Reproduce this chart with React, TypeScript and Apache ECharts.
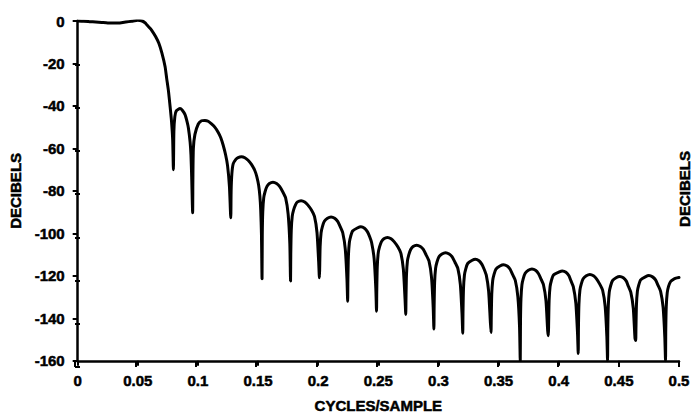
import React, { useEffect, useRef } from "react";
import * as echarts from "echarts";

// Axis settings (tick labels come from these)
const X_MIN = 0;
const X_MAX = 0.5;
const X_STEP = 0.05;
const Y_MIN = -160;
const Y_MAX = 0;
const Y_STEP = 20;

const xTitle = "CYCLES/SAMPLE";
const yTitle = "DECIBELS";

// Passband and transition band: [cycles/sample, dB]
const mainLobe: number[][] = [
  [0, 0], [0.005, -0.1], [0.01, -0.3], [0.015, -0.5], [0.02, -0.7], [0.025, -0.9],
  [0.03, -1.0], [0.035, -0.9], [0.04, -0.5], [0.045, -0.1], [0.05, 0.3], [0.053, 0.1],
  [0.056, -0.8], [0.0575, -1.8], [0.06, -3.3], [0.0617, -4.5], [0.065, -7.5],
  [0.0675, -10.5], [0.07, -15], [0.0727, -21.5], [0.074, -27], [0.0755, -33],
  [0.0768, -40], [0.078, -47], [0.079, -56], [0.0796, -70],
];

// Stopband side lobes, null to null
const lobe1: number[][] = [
  [0.08, -52], [0.0808, -45], [0.082, -42.3], [0.0851, -41.2], [0.087, -42], [0.0892, -44],
  [0.091, -47.5], [0.0921, -50.5], [0.0935, -57], [0.0942, -63], [0.0948, -73.5], [0.0956, -90.3],
];
const lobe2: number[][] = [
  [0.0958, -75], [0.0962, -60], [0.0975, -53.4], [0.1003, -48.5], [0.103, -47], [0.1058, -46.8],
  [0.1085, -47.2], [0.1113, -48.5], [0.114, -50], [0.1169, -52.5], [0.119, -55], [0.121, -58.5],
  [0.123, -63], [0.1246, -68], [0.1262, -78], [0.1273, -92.7],
];
const lobe3: number[][] = [
  [0.1276, -80], [0.1282, -72], [0.1293, -67.3], [0.1315, -65.2], [0.1334, -64.3], [0.1362, -63.9],
  [0.139, -64.4], [0.1417, -65.6], [0.1445, -67.5], [0.1472, -70.3], [0.149, -73.4], [0.1505, -77.5],
  [0.1515, -82.5], [0.1522, -89], [0.1528, -100], [0.1533, -121.4],
];
const lobe4: number[][] = [
  [0.1535, -100.9], [0.1539, -89.9], [0.1547, -83.3], [0.1558, -80.4], [0.1574, -77.9], [0.1594, -76.5],
  [0.1624, -75.9], [0.1654, -76.5], [0.1679, -77.9], [0.1705, -80.4], [0.1729, -83.3], [0.175, -90.9],
  [0.1764, -104.9], [0.177, -122.4],
];
const lobe5: number[][] = [
  [0.1772, -109.6], [0.1776, -98.6], [0.1784, -92], [0.1795, -89.1], [0.1811, -86.6], [0.1828, -85.2],
  [0.1858, -84.6], [0.1888, -85.2], [0.1913, -86.6], [0.1945, -89.1], [0.1969, -92], [0.199, -99.6],
  [0.2004, -113.6], [0.201, -120.9],
];
const lobe6: number[][] = [
  [0.2012, -117.3], [0.2016, -106.3], [0.2024, -99.7], [0.2035, -96.8], [0.2051, -94.3], [0.2077, -92.9],
  [0.2107, -92.3], [0.2137, -92.9], [0.2162, -94.4], [0.2183, -96.8], [0.2204, -99.7], [0.2225, -107.3],
  [0.2239, -121.3], [0.2245, -132],
];
const lobe7: number[][] = [
  [0.2247, -121.9], [0.2251, -110.9], [0.2259, -104.3], [0.227, -101.4], [0.2286, -98.9], [0.2325, -97.5],
  [0.2355, -96.9], [0.2385, -97.6], [0.241, -99.3], [0.2428, -101.6], [0.2444, -104.3], [0.2465, -111.9],
  [0.2479, -125.9], [0.2485, -136.7],
];
const lobe8: number[][] = [
  [0.2487, -126.9], [0.2491, -115.9], [0.2499, -109.3], [0.251, -106.4], [0.2526, -103.9], [0.2546, -102.5],
  [0.2576, -101.9], [0.2606, -102.5], [0.2631, -103.9], [0.2663, -106.4], [0.2687, -109.3], [0.2708, -116.9],
  [0.2722, -130.9], [0.2728, -138.2],
];
const lobe9: number[][] = [
  [0.273, -130.6], [0.2734, -119.6], [0.2742, -113], [0.2753, -110.1], [0.2769, -107.6], [0.2789, -106.2],
  [0.2819, -105.6], [0.2849, -106.2], [0.2874, -107.6], [0.2897, -110.1], [0.2921, -113], [0.2942, -120.6],
  [0.2956, -134.6], [0.2962, -145.1],
];
const lobe10: number[][] = [
  [0.2964, -134.1], [0.2968, -123.1], [0.2976, -116.5], [0.2987, -113.6], [0.3003, -111.1], [0.3029, -109.7],
  [0.3059, -109.1], [0.3089, -109.7], [0.3114, -111.1], [0.3137, -113.6], [0.3161, -116.5], [0.3182, -124.1],
  [0.3196, -138.1], [0.3202, -147],
];
const lobe11: number[][] = [
  [0.3204, -137.2], [0.3208, -126.2], [0.3216, -119.6], [0.3227, -116.7], [0.3243, -114.2], [0.3277, -112.8],
  [0.3307, -112.2], [0.3337, -112.9], [0.336, -114.5], [0.3379, -116.8], [0.3398, -119.8], [0.3417, -127.2],
  [0.3431, -141.2], [0.3437, -146.7],
];
const lobe12: number[][] = [
  [0.3439, -139.8], [0.3443, -128.8], [0.3451, -122.2], [0.3462, -119.3], [0.3478, -116.8], [0.3511, -115.4],
  [0.3541, -114.8], [0.3571, -115.4], [0.3596, -116.9], [0.3615, -119.2], [0.3639, -122.2], [0.366, -129.8],
  [0.3674, -143.8], [0.368, -160],
];
const lobe13: number[][] = [
  [0.3682, -141.8], [0.3686, -130.8], [0.3694, -124.2], [0.3705, -121.3], [0.3721, -118.8], [0.3747, -117.4],
  [0.3777, -116.8], [0.3807, -117.4], [0.3832, -119], [0.3851, -121.3], [0.3873, -124.2], [0.3894, -131.8],
  [0.3908, -145.8], [0.3914, -148.2],
];
const lobe14: number[][] = [
  [0.3916, -142.7], [0.392, -131.7], [0.3928, -125.1], [0.3939, -122.2], [0.3955, -119.7], [0.4, -118.3],
  [0.403, -117.7], [0.406, -118.3], [0.4085, -120], [0.4102, -122.4], [0.4121, -125.1], [0.4142, -132.7],
  [0.4156, -146.7], [0.4162, -156.6],
];
const lobe15: number[][] = [
  [0.4164, -144.4], [0.4168, -133.4], [0.4176, -126.8], [0.4187, -123.9], [0.4203, -121.4], [0.4229, -120],
  [0.4259, -119.4], [0.4289, -120], [0.4314, -121.4], [0.4341, -123.9], [0.4365, -126.8], [0.4386, -134.4],
  [0.44, -148.4], [0.4406, -160],
];
const lobe16: number[][] = [
  [0.4408, -145.3], [0.4412, -134.3], [0.442, -127.7], [0.4431, -124.8], [0.4447, -122.3], [0.4477, -120.9],
  [0.4507, -120.3], [0.4537, -120.9], [0.4562, -122.5], [0.4578, -124.8], [0.4599, -127.7], [0.462, -135.3],
  [0.4634, -149.3], [0.464, -150.5],
];
const lobe17: number[][] = [
  [0.4642, -144.9], [0.4646, -133.9], [0.4654, -127.3], [0.4665, -124.4], [0.4681, -121.9], [0.472, -120.5],
  [0.475, -119.9], [0.478, -120.5], [0.4805, -121.9], [0.4825, -124.4], [0.4847, -127.3], [0.4868, -134.9],
  [0.4882, -148.9], [0.4888, -160],
];
const lobe18: number[][] = [
  [0.489, -145.5], [0.4894, -134.5], [0.4902, -128], [0.4913, -125], [0.4929, -122.8], [0.4955, -121.6],
  [0.4975, -121.1], [0.5, -120.8],
];

const sideLobes = [
  lobe1, lobe2, lobe3, lobe4, lobe5, lobe6, lobe7, lobe8, lobe9,
  lobe10, lobe11, lobe12, lobe13, lobe14, lobe15, lobe16, lobe17, lobe18,
];

const FONT = "'Liberation Sans', Arial, sans-serif";
const INK = "#000";

export default function App() {
  const ref = useRef<HTMLDivElement>(null);

  useEffect(() => {
    if (!ref.current) return;
    const chart = echarts.init(ref.current, undefined, { renderer: "svg" });
    const curve = mainLobe.concat(...sideLobes);

    const gridBox = { left: 75, right: 14, top: 21, bottom: 51 };
    const labelStyle = {
      color: INK,
      fontFamily: FONT,
      fontWeight: "bold" as const,
      fontSize: 15,
      textBorderColor: INK,
      textBorderWidth: 0.5,
    };
    const fmt = (v: number) => String(parseFloat(v.toFixed(2)));

    chart.setOption({
      animation: false,
      backgroundColor: "#fff",
      grid: [
        { ...gridBox, containLabel: false },
        { ...gridBox, containLabel: false },
      ],
      xAxis: [
        {
          type: "value",
          gridIndex: 0,
          min: X_MIN,
          max: X_MAX,
          interval: X_STEP,
          name: xTitle,
          nameLocation: "middle",
          nameGap: 37,
          nameTextStyle: { ...labelStyle },
          axisLine: { show: true, onZero: false, lineStyle: { color: INK, width: 2.5 } },
          axisTick: { show: true, inside: false, length: 5, lineStyle: { color: INK, width: 2 } },
          axisLabel: { ...labelStyle, margin: 12, formatter: fmt },
          splitLine: { show: false },
        },
        {
          type: "value",
          gridIndex: 1,
          min: X_MIN,
          max: X_MAX,
          interval: X_STEP,
          axisLine: { show: false, onZero: false },
          axisTick: { show: true, inside: true, length: 5, lineStyle: { color: INK, width: 2 } },
          axisLabel: { show: false },
          splitLine: { show: false },
        },
      ],
      yAxis: [
        {
          type: "value",
          gridIndex: 0,
          min: Y_MIN,
          max: Y_MAX,
          interval: Y_STEP,
          name: yTitle,
          nameLocation: "middle",
          nameGap: 54,
          nameRotate: 90,
          nameTextStyle: { ...labelStyle },
          axisLine: { show: true, onZero: false, lineStyle: { color: INK, width: 2.5 } },
          axisTick: { show: true, inside: false, length: 5, lineStyle: { color: INK, width: 2 } },
          axisLabel: { ...labelStyle, margin: 13 },
          splitLine: { show: false },
        },
        {
          type: "value",
          gridIndex: 1,
          min: Y_MIN,
          max: Y_MAX,
          interval: Y_STEP,
          axisLine: { show: false, onZero: false },
          axisTick: { show: true, inside: true, length: 5, lineStyle: { color: INK, width: 2 } },
          axisLabel: { show: false },
          splitLine: { show: false },
        },
      ],
      graphic: [
        {
          type: "text",
          x: 684,
          y: 189,
          rotation: Math.PI / 2,
          style: {
            text: yTitle,
            fill: INK,
            stroke: INK,
            lineWidth: 0.5,
            font: `bold 15px ${FONT}`,
            align: "center",
            verticalAlign: "middle",
          },
        },
      ],
      series: [
        {
          type: "line",
          xAxisIndex: 0,
          yAxisIndex: 0,
          data: curve,
          showSymbol: false,
          smooth: 0.2,
          clip: true,
          lineStyle: { color: INK, width: 3, join: "round", cap: "round" },
        },
      ],
    });

    return () => chart.dispose();
  }, []);

  return (
    <div
      ref={ref}
      style={{ position: "fixed", left: 0, top: 0, width: 693, height: 418, background: "#fff" }}
    />
  );
}
